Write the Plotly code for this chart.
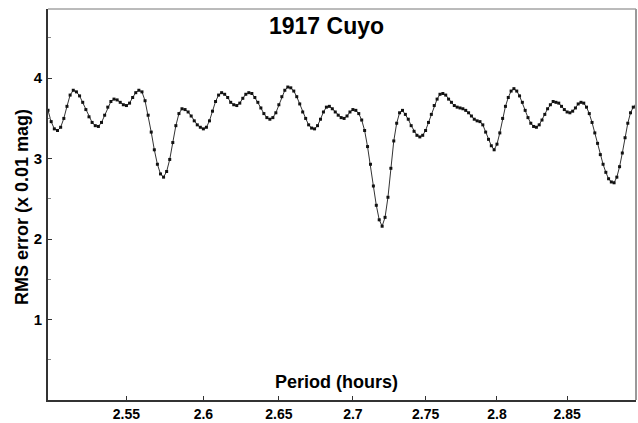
import plotly.graph_objects as go
import math

# Period grid (hours)
periods = [
    2.500, 2.502, 2.504, 2.506, 2.508, 2.510, 2.512, 2.514, 2.516, 2.518,
    2.520, 2.522, 2.524, 2.526, 2.528, 2.530, 2.532, 2.534, 2.536, 2.538,
    2.540, 2.542, 2.544, 2.546, 2.548, 2.550, 2.552, 2.554, 2.556, 2.558,
    2.560, 2.562, 2.564, 2.566, 2.568, 2.570, 2.572, 2.574, 2.576, 2.578,
    2.580, 2.582, 2.584, 2.586, 2.588, 2.590, 2.592, 2.594, 2.596, 2.598,
    2.600, 2.602, 2.604, 2.606, 2.608, 2.610, 2.612, 2.614, 2.616, 2.618,
    2.620, 2.622, 2.624, 2.626, 2.628, 2.630, 2.632, 2.634, 2.636, 2.638,
    2.640, 2.642, 2.644, 2.646, 2.648, 2.650, 2.652, 2.654, 2.656, 2.658,
    2.660, 2.662, 2.664, 2.666, 2.668, 2.670, 2.672, 2.674, 2.676, 2.678,
    2.680, 2.682, 2.684, 2.686, 2.688, 2.690, 2.692, 2.694, 2.696, 2.698,
    2.700, 2.702, 2.704, 2.706, 2.708, 2.710, 2.712, 2.714, 2.716, 2.718,
    2.720, 2.722, 2.724, 2.726, 2.728, 2.730, 2.732, 2.734, 2.736, 2.738,
    2.740, 2.742, 2.744, 2.746, 2.748, 2.750, 2.752, 2.754, 2.756, 2.758,
    2.760, 2.762, 2.764, 2.766, 2.768, 2.770, 2.772, 2.774, 2.776, 2.778,
    2.780, 2.782, 2.784, 2.786, 2.788, 2.790, 2.792, 2.794, 2.796, 2.798,
    2.800, 2.802, 2.804, 2.806, 2.808, 2.810, 2.812, 2.814, 2.816, 2.818,
    2.820, 2.822, 2.824, 2.826, 2.828, 2.830, 2.832, 2.834, 2.836, 2.838,
    2.840, 2.842, 2.844, 2.846, 2.848, 2.850, 2.852, 2.854, 2.856, 2.858,
    2.860, 2.862, 2.864, 2.866, 2.868, 2.870, 2.872, 2.874, 2.876, 2.878,
    2.880, 2.882, 2.884, 2.886, 2.888, 2.890, 2.892, 2.894, 2.896, 2.898,
    2.900,
]

# RMS error (x 0.01 mag)
rms_error = [
    3.60, 3.46, 3.37, 3.35, 3.39, 3.50, 3.65, 3.79, 3.85, 3.83,
    3.78, 3.70, 3.61, 3.52, 3.45, 3.41, 3.40, 3.45, 3.54, 3.64,
    3.71, 3.74, 3.73, 3.70, 3.67, 3.66, 3.69, 3.76, 3.82, 3.85,
    3.83, 3.72, 3.54, 3.33, 3.11, 2.93, 2.81, 2.77, 2.84, 2.99,
    3.20, 3.41, 3.56, 3.62, 3.61, 3.58, 3.53, 3.47, 3.42, 3.39,
    3.37, 3.39, 3.47, 3.59, 3.71, 3.79, 3.82, 3.80, 3.76, 3.70,
    3.67, 3.66, 3.69, 3.75, 3.80, 3.82, 3.81, 3.76, 3.70, 3.63,
    3.56, 3.51, 3.49, 3.51, 3.57, 3.67, 3.77, 3.85, 3.89, 3.88,
    3.84, 3.77, 3.68, 3.58, 3.50, 3.42, 3.38, 3.37, 3.41, 3.49,
    3.58, 3.64, 3.65, 3.62, 3.58, 3.54, 3.51, 3.50, 3.53, 3.58,
    3.61, 3.60, 3.56, 3.48, 3.35, 3.15, 2.93, 2.66, 2.42, 2.24,
    2.16, 2.27, 2.52, 2.88, 3.22, 3.44, 3.57, 3.60, 3.55, 3.49,
    3.41, 3.34, 3.29, 3.27, 3.29, 3.35, 3.45, 3.55, 3.66, 3.74,
    3.80, 3.81, 3.79, 3.74, 3.70, 3.66, 3.64, 3.63, 3.62, 3.60,
    3.57, 3.53, 3.49, 3.47, 3.46, 3.42, 3.33, 3.24, 3.16, 3.11,
    3.18, 3.32, 3.50, 3.65, 3.76, 3.84, 3.87, 3.84, 3.78, 3.70,
    3.60, 3.51, 3.44, 3.40, 3.39, 3.42, 3.48, 3.55, 3.62, 3.67,
    3.71, 3.70, 3.69, 3.65, 3.61, 3.58, 3.57, 3.59, 3.63, 3.68,
    3.70, 3.69, 3.64, 3.56, 3.45, 3.32, 3.19, 3.05, 2.93, 2.83,
    2.75, 2.71, 2.70, 2.77, 2.90, 3.07, 3.26, 3.44, 3.57, 3.64,
    3.65,
]

x_tickvals = [2.55, 2.6, 2.65, 2.7, 2.75, 2.8, 2.85]
x_ticktext = ["2.55", "2.6", "2.65", "2.7", "2.75", "2.8", "2.85"]
y_tickvals = [1, 2, 3, 4]
y_ticktext = ["1", "2", "3", "4"]

title_text = "1917 Cuyo"
x_title = "Period (hours)"
y_title = "RMS error (x 0.01 mag)"

FONT = "Liberation Sans, Arial, sans-serif"

fig = go.Figure()
fig.add_trace(go.Scatter(
    x=periods, y=rms_error, mode="lines+markers",
    line=dict(color="#333333", width=1),
    marker=dict(color="#111111", size=3, symbol="square"),
    showlegend=False, hoverinfo="x+y",
))

fig.update_layout(
    width=638, height=423,
    margin=dict(l=48, r=2, t=9, b=23),
    paper_bgcolor="white", plot_bgcolor="white",
    font=dict(family=FONT, color="black"),
    xaxis=dict(
        type="log",
        range=[math.log10(2.5), math.log10(2.9)],
        tickvals=x_tickvals, ticktext=x_ticktext,
        ticks="inside", ticklen=4, tickwidth=1, tickcolor="#333333",
        tickfont=dict(size=14, family=FONT, weight="bold", color="black"),
        showgrid=False, zeroline=False, automargin=False,
        showline=True, linecolor="#333333", linewidth=2,
        ticklabelstandoff=0,
    ),
    yaxis=dict(
        range=[0, 4.86],
        tickvals=y_tickvals, ticktext=y_ticktext,
        ticks="inside", ticklen=4, tickwidth=1, tickcolor="#333333",
        tickfont=dict(size=15, family=FONT, weight="bold", color="black"),
        minor=dict(tickvals=[0.5, 1.5, 2.5, 3.5, 4.5], ticks="inside",
                   ticklen=3, tickcolor="#888888"),
        showgrid=False, zeroline=False, automargin=False,
        showline=True, linecolor="#333333", linewidth=2,
        ticklabelstandoff=1,
    ),
    shapes=[
        dict(type="line", xref="paper", yref="paper", x0=0, x1=1, y0=1, y1=1,
             line=dict(color="#777777", width=1)),
        dict(type="line", xref="paper", yref="paper", x0=1, x1=1, y0=0, y1=1,
             line=dict(color="#999999", width=2)),
    ],
    annotations=[
        dict(text=title_text, xref="paper", yref="paper", x=0.473, y=0.957,
             xanchor="center", yanchor="middle", showarrow=False,
             font=dict(size=23, family=FONT, weight="bold", color="black")),
        dict(text=x_title, xref="paper", yref="paper", x=0.49, y=0.047,
             xanchor="center", yanchor="middle", showarrow=False,
             font=dict(size=18, family=FONT, weight="bold", color="black")),
        dict(text=y_title, xref="paper", yref="paper", x=-0.044, y=0.494,
             xanchor="center", yanchor="middle", showarrow=False, textangle=-90,
             font=dict(size=18, family=FONT, weight="bold", color="black")),
    ],
)

fig.write_html(
    "out.html",
    config={"displayModeBar": False},
    post_script="document.body.style.margin='0';document.body.style.overflow='hidden';",
)
